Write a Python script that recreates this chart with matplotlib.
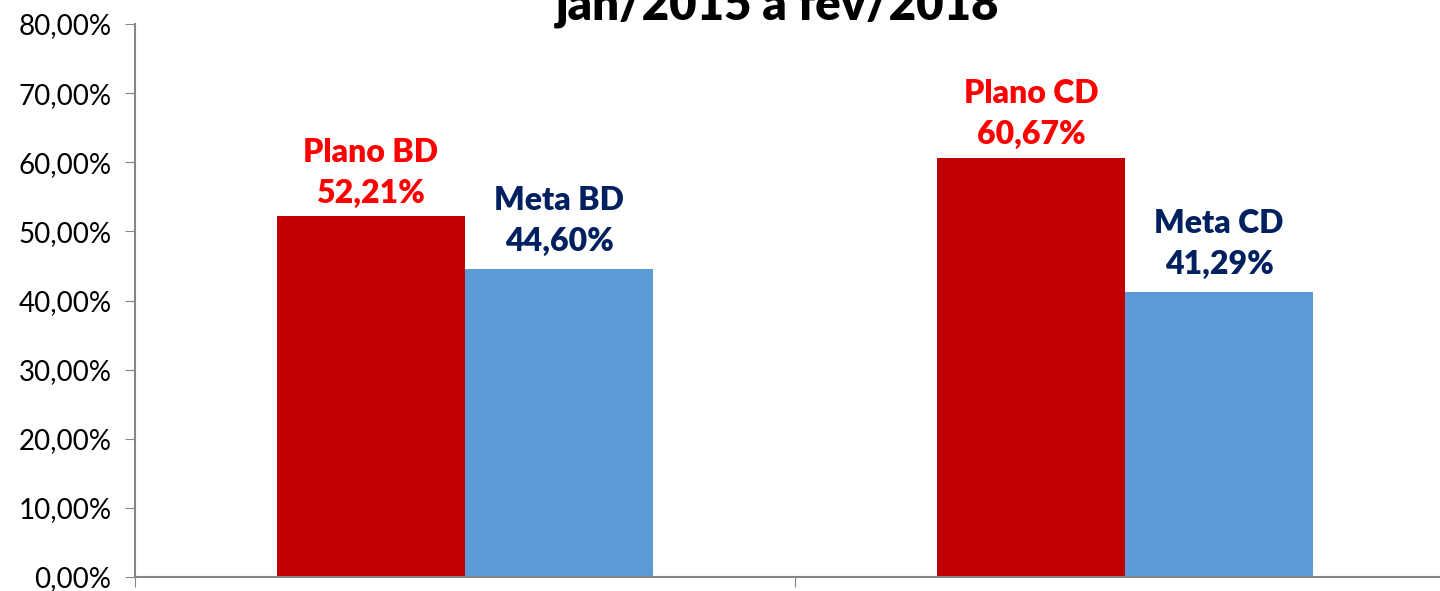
import numpy as np
import matplotlib.pyplot as plt
from matplotlib.ticker import FuncFormatter

# dados (percentuais)
grupos = ["BD", "CD"]
plano = [52.21, 60.67]
meta = [44.60, 41.29]
rotulos_plano = ["Plano BD", "Plano CD"]
rotulos_meta = ["Meta BD", "Meta CD"]

plt.rcParams['font.family'] = ['Lato', 'DejaVu Sans']

fig = plt.figure(figsize=(14.4, 5.91), dpi=100)
# eixo vai além da borda direita como no original
ax = fig.add_axes([135 / 1440, 14 / 591, 1320 / 1440, 553 / 591])

x = np.arange(len(grupos))
w = 0.285
b1 = ax.bar(x - w / 2, plano, width=w, color="#C00000")
b2 = ax.bar(x + w / 2, meta, width=w, color="#5B9BD5")

def fmt(v):
    return f"{v:.2f}%".replace(".", ",")

for rect, nome, v in zip(b1, rotulos_plano, plano):
    ax.annotate(f"{nome}\n{fmt(v)}", (rect.get_x() + rect.get_width() / 2, v),
                xytext=(0, 6), textcoords="offset points", ha="center", va="bottom",
                color="#FF0000", fontsize=23, fontweight="heavy", linespacing=1.5)
for rect, nome, v in zip(b2, rotulos_meta, meta):
    ax.annotate(f"{nome}\n{fmt(v)}", (rect.get_x() + rect.get_width() / 2, v),
                xytext=(0, 9), textcoords="offset points", ha="center", va="bottom",
                color="#002060", fontsize=23, fontweight="heavy", linespacing=1.5)

ax.set_xlim(-0.5, 1.5)
ax.set_ylim(0, 80)
ax.set_yticks(np.arange(0, 81, 10))
ax.yaxis.set_major_formatter(FuncFormatter(lambda v, p: fmt(v)))
ax.set_xticks([-0.5, 0.5, 1.5])
ax.set_xticklabels([])
ax.tick_params(axis="y", labelsize=20, length=7, color="#868686", pad=10)
ax.tick_params(axis="x", length=7, color="#868686")

for s in ["top", "right"]:
    ax.spines[s].set_visible(False)
for s in ["left", "bottom"]:
    ax.spines[s].set_color("#868686")
    ax.spines[s].set_linewidth(1.5)

# título cortado no topo, como na imagem de referência
fig.text(778 / 1440, 1 - 19 / 591, "jan/2015 a fev/2018", ha="center", va="baseline",
         fontsize=34, fontweight="heavy", color="black")

fig.savefig("out.png", dpi=100)
